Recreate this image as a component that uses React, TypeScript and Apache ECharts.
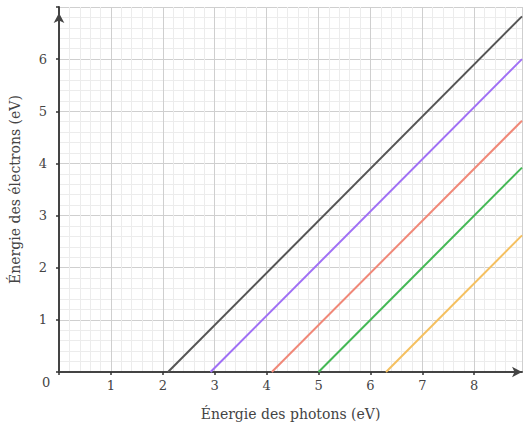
import React, { useEffect, useRef } from "react";
import * as echarts from "echarts";

const seriesNames = ["Césium", "Potassium", "Zinc", "Cuivre", "Platine"];
const seriesColors = ["#555555", "#a070f5", "#f08878", "#44b855", "#f5c060"];
// start (threshold) and end points of each line: [photon eV, electron eV]
const startPoints = [
  [2.1, 0],
  [2.92, 0],
  [4.1, 0],
  [5.0, 0],
  [6.3, 0],
];
const endPoints = [
  [8.92, 6.82],
  [8.92, 6.0],
  [8.92, 4.82],
  [8.92, 3.92],
  [8.92, 2.62],
];
const xTicks = [1, 2, 3, 4, 5, 6, 7, 8];
const yTicks = [1, 2, 3, 4, 5, 6];

const FONT = "DejaVu Serif";

export default function App() {
  const ref = useRef<HTMLDivElement>(null);
  useEffect(() => {
    document.body.style.margin = "0";
    const chart = echarts.init(ref.current!, null, { renderer: "svg" });
    chart.setOption({
      animation: false,
      backgroundColor: "#ffffff",
      grid: { left: 58, right: 1, top: 7, bottom: 56 },
      xAxis: {
        type: "value",
        min: 0,
        max: 8.92,
        interval: 1,
        name: "Énergie des photons (eV)",
        nameLocation: "middle",
        nameGap: 35,
        nameTextStyle: { fontFamily: FONT, fontSize: 14, color: "#444" },
        axisLine: {
          show: true,
          onZero: false,
          symbol: ["none", "arrow"],
          symbolSize: [8, 10],
          lineStyle: { color: "#444", width: 2 },
        },
        axisTick: { show: true, length: 3, lineStyle: { color: "#333", width: 1.5 } },
        axisLabel: {
          fontFamily: FONT,
          fontSize: 13,
          color: "#444",
          margin: 7,
          showMaxLabel: false,
          formatter: (v: number) => (xTicks.includes(v) ? String(v) : ""),
        },
        splitLine: { show: true, lineStyle: { color: "#cfcfcf", width: 1 } },
        minorTick: { show: false, splitNumber: 5 },
        minorSplitLine: { show: true, lineStyle: { color: "#ececec", width: 1 } },
      },
      yAxis: {
        type: "value",
        min: 0,
        max: 7,
        interval: 1,
        name: "Énergie des électrons (eV)",
        nameLocation: "middle",
        nameGap: 37,
        nameTextStyle: { fontFamily: FONT, fontSize: 14, color: "#444" },
        axisLine: {
          show: true,
          onZero: false,
          symbol: ["none", "arrow"],
          symbolSize: [8, 10],
          symbolOffset: [0, -6],
          lineStyle: { color: "#444", width: 2 },
        },
        axisTick: { show: true, length: 3, lineStyle: { color: "#333", width: 1.5 } },
        axisLabel: {
          fontFamily: FONT,
          fontSize: 13,
          color: "#444",
          margin: 12,
          formatter: (v: number) => (yTicks.includes(v) ? String(v) : ""),
        },
        splitLine: { show: true, lineStyle: { color: "#cfcfcf", width: 1 } },
        minorTick: { show: false, splitNumber: 5 },
        minorSplitLine: { show: true, lineStyle: { color: "#ececec", width: 1 } },
      },
      graphic: [
        {
          type: "text",
          left: 42,
          top: 376,
          style: { text: "0", fontFamily: FONT, fontSize: 13, fill: "#444" },
        },
      ],
      series: seriesNames.map((n, i) => ({
        name: n,
        type: "line",
        data: [startPoints[i], endPoints[i]],
        symbol: "none",
        lineStyle: { color: seriesColors[i], width: 2 },
        z: 5,
      })),
    });
    return () => chart.dispose();
  }, []);
  return <div ref={ref} style={{ width: 523, height: 428 }} />;
}
